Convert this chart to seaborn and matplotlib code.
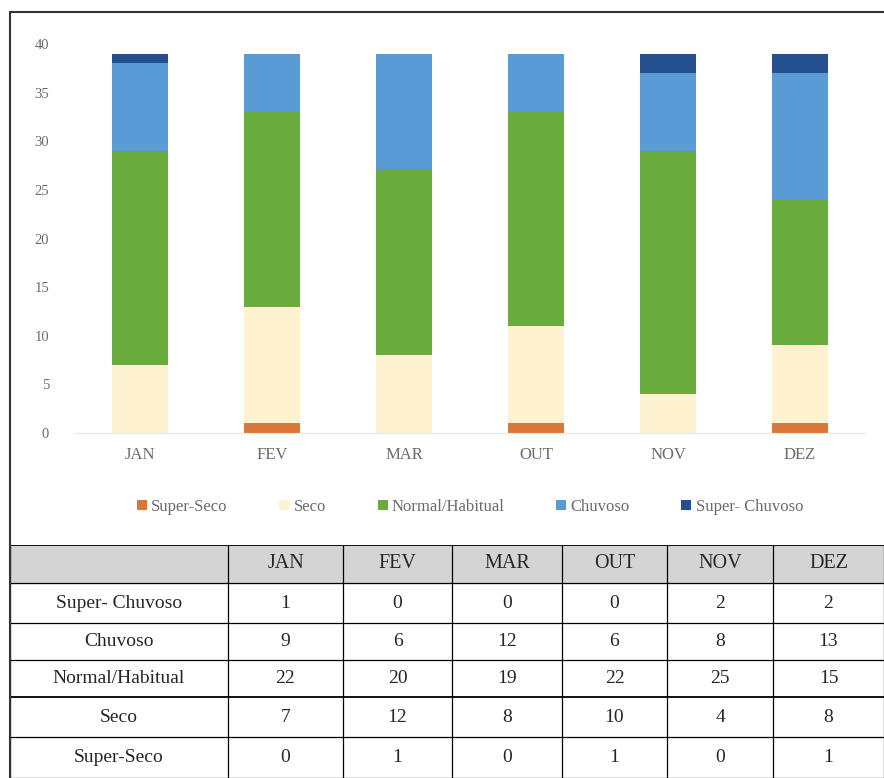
import matplotlib
matplotlib.use("Agg")
import matplotlib.pyplot as plt
import pandas as pd
import seaborn as sns

# data
months = ["JAN", "FEV", "MAR", "OUT", "NOV", "DEZ"]
classes = ["Super-Seco", "Seco", "Normal/Habitual", "Chuvoso", "Super- Chuvoso"]
super_seco = [0, 1, 0, 1, 0, 1]
seco = [7, 12, 8, 10, 4, 8]
normal = [22, 20, 19, 22, 25, 15]
chuvoso = [9, 6, 12, 6, 8, 13]
super_chuvoso = [1, 0, 0, 0, 2, 2]
colors = ["#d9773a", "#fdf1cf", "#6aab3e", "#5b9bd5", "#25508f"]

df = pd.DataFrame({"mes": months, "Super-Seco": super_seco, "Seco": seco,
                   "Normal/Habitual": normal, "Chuvoso": chuvoso,
                   "Super- Chuvoso": super_chuvoso})
cum = df[classes].cumsum(axis=1)
cum["mes"] = months

sns.set_style("white")
plt.rcParams["font.family"] = ["Liberation Serif", "DejaVu Serif"]

fig = plt.figure(figsize=(8.84, 7.78), dpi=100)
W, H = 884, 778

# chart axes
ax = fig.add_axes([74 / W, 1 - 433 / H, (866 - 74) / W, (433 - 44) / H])
# stacked bars: draw cumulative totals from top layer down
for cls, col in reversed(list(zip(classes, colors))):
    sns.barplot(data=cum, x="mes", y=cls, color=col, width=0.42,
                saturation=1, ax=ax, label=cls, linewidth=0)
ax.set_ylim(0, 40)
ax.set_yticks(range(0, 41, 5))
ax.set_xlabel("")
ax.set_ylabel("")
for s in ["top", "right", "left"]:
    ax.spines[s].set_visible(False)
ax.spines["bottom"].set_color("#e6e6e6")
ax.tick_params(axis="y", labelsize=10.5, colors="#6b6b6b", length=0, pad=18)
ax.tick_params(axis="x", labelsize=12, colors="#6b6b6b", length=0, pad=10)

handles, labels = ax.get_legend_handles_labels()
order = [labels.index(c) for c in classes]
ax.legend([handles[i] for i in order], [labels[i] for i in order],
          loc="center", bbox_to_anchor=(0.5, -0.19), ncol=5, frameon=False,
          fontsize=12, handlelength=0.6, handleheight=0.6, handletextpad=0.25,
          columnspacing=3.1, labelcolor="#6b6b6b")

# table below
tx = fig.add_axes([10 / W, 0, (W - 10) / W, (H - 545) / H])
tx.set_xlim(10, W)
tx.set_ylim(H, 545)
tx.axis("off")
col_edges = [10, 228, 343, 452, 562, 667, 773, W]
row_edges = [545, 583, 623, 660, 697, 737, 778]
tx.fill_between([10, W], 545, 583, color="#d4d4d4", zorder=0)
for y in row_edges:
    tx.plot([10, W], [y, y], color="black", lw=1.3 if y in (545, 697) else 0.9)
for x in col_edges:
    tx.plot([x, x], [545, 778], color="black", lw=0.9)

table_rows = [("Super- Chuvoso", super_chuvoso), ("Chuvoso", chuvoso),
              ("Normal/Habitual", normal), ("Seco", seco),
              ("Super-Seco", super_seco)]
for j, m in enumerate(months):
    xc = (col_edges[j + 1] + col_edges[j + 2]) / 2
    tx.text(xc, (row_edges[0] + row_edges[1]) / 2, m, ha="center",
            va="center", fontsize=14.5)
for i, (name, vals) in enumerate(table_rows):
    yc = (row_edges[i + 1] + row_edges[i + 2]) / 2
    tx.text((col_edges[0] + col_edges[1]) / 2, yc, name, ha="center",
            va="center", fontsize=14)
    for j, v in enumerate(vals):
        xc = (col_edges[j + 1] + col_edges[j + 2]) / 2
        tx.text(xc, yc, str(v), ha="center", va="center", fontsize=14)

# outer frame lines
fig.add_artist(plt.Line2D([10 / W, 10 / W], [0, 1 - 12 / H], color="#333333", lw=1.5))
fig.add_artist(plt.Line2D([10 / W, 1], [1 - 12 / H, 1 - 12 / H], color="#333333", lw=1.5))

fig.savefig("out.png", dpi=100)
